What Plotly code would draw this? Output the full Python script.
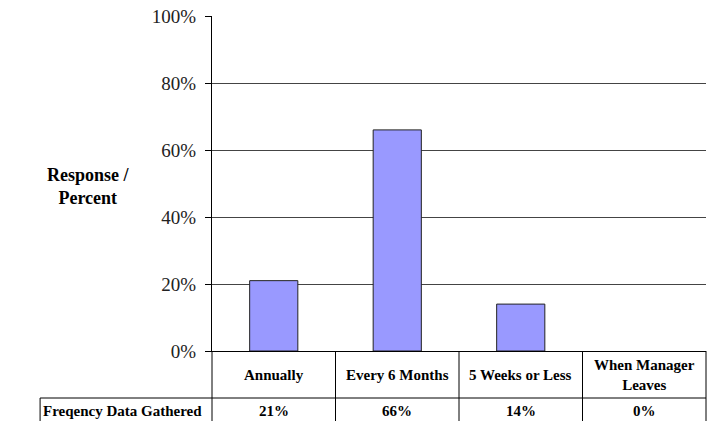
import plotly.graph_objects as go

# data
categories = ["Annually", "Every 6 Months", "5 Weeks or Less", "When Manager<br>Leaves"]
values = [0.21, 0.66, 0.14, 0.0]
row_label = "Freqency Data Gathered"
y_ticks = [0, 0.2, 0.4, 0.6, 0.8, 1.0]

FONT = "Liberation Serif"

fig = go.Figure()
fig.add_trace(go.Bar(
    x=list(range(len(categories))),
    y=values,
    marker=dict(color="#9999FF",
                line=dict(color="#222222", width=[1 if v > 0 else 0 for v in values])),
    hoverinfo="skip",
))

# table geometry (paper coords) below the plot
row1_bottom = -0.1403   # bottom of the category row
row2_bottom = -0.215
label_left = -0.348
n = len(categories)

shapes = []
# vertical dividers of the table
for k in range(n + 1):
    shapes.append(dict(type="line", xref="paper", yref="paper",
                       x0=k / n, x1=k / n, y0=0, y1=row2_bottom,
                       line=dict(color="black", width=1)))
# horizontal line under category row, extended to the row label cell
shapes.append(dict(type="line", xref="paper", yref="paper",
                   x0=label_left, x1=1, y0=row1_bottom, y1=row1_bottom,
                   line=dict(color="black", width=1)))
shapes.append(dict(type="line", xref="paper", yref="paper",
                   x0=label_left, x1=label_left, y0=row1_bottom, y1=row2_bottom,
                   line=dict(color="black", width=1)))

cell_font = dict(family=FONT, size=15, color="black")
row2_mid = (row1_bottom + -0.215) / 2
annotations = []
for i, (cat, v) in enumerate(zip(categories, values)):
    annotations.append(dict(x=i, y=row1_bottom / 2, xref="x", yref="paper",
                            text="<b>%s</b>" % cat, showarrow=False, font=cell_font,
                            xanchor="center", yanchor="middle"))
    annotations.append(dict(x=i, y=row2_mid, xref="x", yref="paper",
                            text="<b>%d%%</b>" % round(v * 100), showarrow=False,
                            font=cell_font, xanchor="center", yanchor="middle"))
annotations.append(dict(x=label_left + 0.002, y=row2_mid,
                        xref="paper", yref="paper",
                        text="<b>%s</b>" % row_label, showarrow=False, font=cell_font,
                        xanchor="left", yanchor="middle"))
annotations.append(dict(x=-0.25, y=0.49, xref="paper", yref="paper",
                        text="<b>Response /<br>Percent</b>", showarrow=False,
                        font=dict(family=FONT, size=18, color="black"),
                        xanchor="center", yanchor="middle"))

fig.update_layout(
    width=710, height=421,
    margin=dict(l=212, r=4, t=16, b=70, autoexpand=False),
    paper_bgcolor="white", plot_bgcolor="white",
    bargap=0.61,
    showlegend=False,
    font=dict(family=FONT, size=18, color="black"),
    shapes=shapes,
    annotations=annotations,
)
fig.update_xaxes(range=[-0.5, n - 0.5], showticklabels=False, showgrid=False,
                 zeroline=False, showline=True, linecolor="black", linewidth=1, ticks="")
fig.update_yaxes(range=[0, 1], tickvals=y_ticks, tickformat=".0%",
                 showgrid=True, gridcolor="#444444", gridwidth=1,
                 zeroline=False, showline=True, linecolor="black", linewidth=1,
                 ticks="outside", ticklen=6, tickcolor="black", ticklabelstandoff=5,
                 tickfont=dict(family=FONT, size=19, color="#222222"))

# the page's default body margin would offset the figure
fig.write_html("out.html", config={"displayModeBar": False},
               post_script="document.body.style.margin='0';")
